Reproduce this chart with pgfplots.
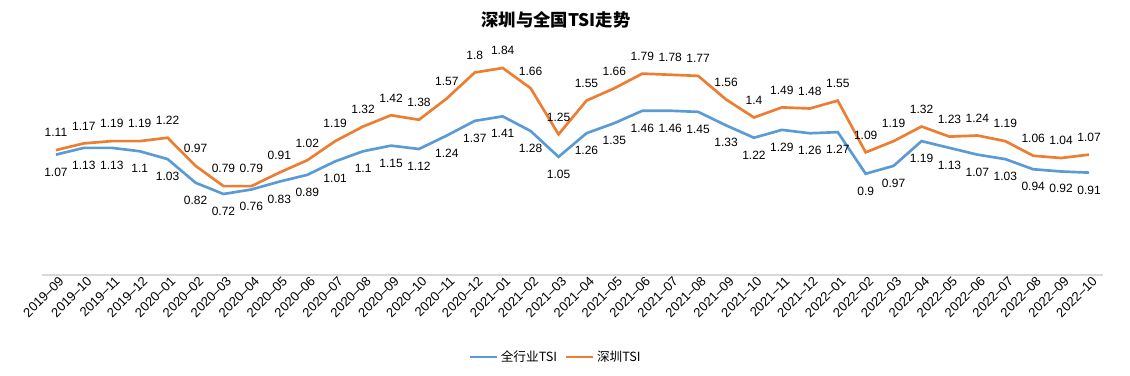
\documentclass[border=0pt]{standalone}
\usepackage{fontspec}
\setmainfont{Liberation Sans}
\newfontfamily\cjk{Noto Sans CJK SC}
\usepackage{pgfplots}
\usepackage{pgfplotstable}
\pgfplotsset{compat=1.18}
\definecolor{cblue}{HTML}{5B9BD5}
\definecolor{corange}{HTML}{ED7D31}
\pgfplotstableread{
x qg sz
0 1.07 1.11
1 1.13 1.17
2 1.13 1.19
3 1.10 1.19
4 1.03 1.22
5 0.82 0.97
6 0.72 0.79
7 0.76 0.79
8 0.83 0.91
9 0.89 1.02
10 1.01 1.19
11 1.10 1.32
12 1.15 1.42
13 1.12 1.38
14 1.24 1.57
15 1.37 1.80
16 1.41 1.84
17 1.28 1.66
18 1.05 1.25
19 1.26 1.55
20 1.35 1.66
21 1.46 1.79
22 1.46 1.78
23 1.45 1.77
24 1.33 1.56
25 1.22 1.40
26 1.29 1.49
27 1.26 1.48
28 1.27 1.55
29 0.90 1.09
30 0.97 1.19
31 1.19 1.32
32 1.13 1.23
33 1.07 1.24
34 1.03 1.19
35 0.94 1.06
36 0.92 1.04
37 0.91 1.07
}\datatable
\begin{document}
\begin{tikzpicture}
\path[use as bounding box] (0,0) rectangle (847.5pt,281.25pt);
\node[font=\cjk\bfseries\fontsize{13}{15}\selectfont] at (417pt,266.25pt) {深圳与全国TSI走势};
\begin{axis}[
  at={(31.5pt,75pt)}, anchor=south west,
  scale only axis, width=795.75pt, height=168.75pt,
  xmin=-0.5, xmax=37.5, ymin=0, ymax=2,
  clip=false,
  hide y axis,
  axis x line*=bottom,
  x axis line style={-, draw=black!15, line width=1.1pt},
  xtick=data,
  xticklabels={2019–09,2019–10,2019–11,2019–12,2020–01,2020–02,2020–03,2020–04,2020–05,2020–06,2020–07,2020–08,2020–09,2020–10,2020–11,2020–12,2021–01,2021–02,2021–03,2021–04,2021–05,2021–06,2021–07,2021–08,2021–09,2021–10,2021–11,2021–12,2022–01,2022–02,2022–03,2022–04,2022–05,2022–06,2022–07,2022–08,2022–09,2022–10},
  xtick style={draw=none},
  xticklabel style={rotate=45, anchor=east, font=\fontsize{9.8}{11}\selectfont, yshift=-5pt, xshift=2pt, inner sep=1pt},
  legend style={at={(0.4845,-0.3644)}, anchor=center, draw=none, fill=none,
    font=\cjk\fontsize{9.5}{11}\selectfont, legend columns=2,
    /tikz/every even column/.append style={column sep=4pt}},
  legend image code/.code={\draw[#1, line width=2pt] (0pt,0pt) -- (20pt,0pt);},
  every node near coord/.append style={font=\fontsize{9}{10}\selectfont, anchor=center},
  nodes near coords={\pgfmathprintnumber[assume math mode=true]{\pgfplotspointmeta}},
  point meta=y,
]
\addplot[cblue, line width=2pt, every node near coord/.append style={yshift=-13pt, black}] table[x=x, y=qg] {\datatable};
\addlegendentry{全行业TSI}
\addplot[corange, line width=2pt, every node near coord/.append style={yshift=13pt, black}] table[x=x, y=sz] {\datatable};
\addlegendentry{深圳TSI}
\end{axis}
\end{tikzpicture}
\end{document}
